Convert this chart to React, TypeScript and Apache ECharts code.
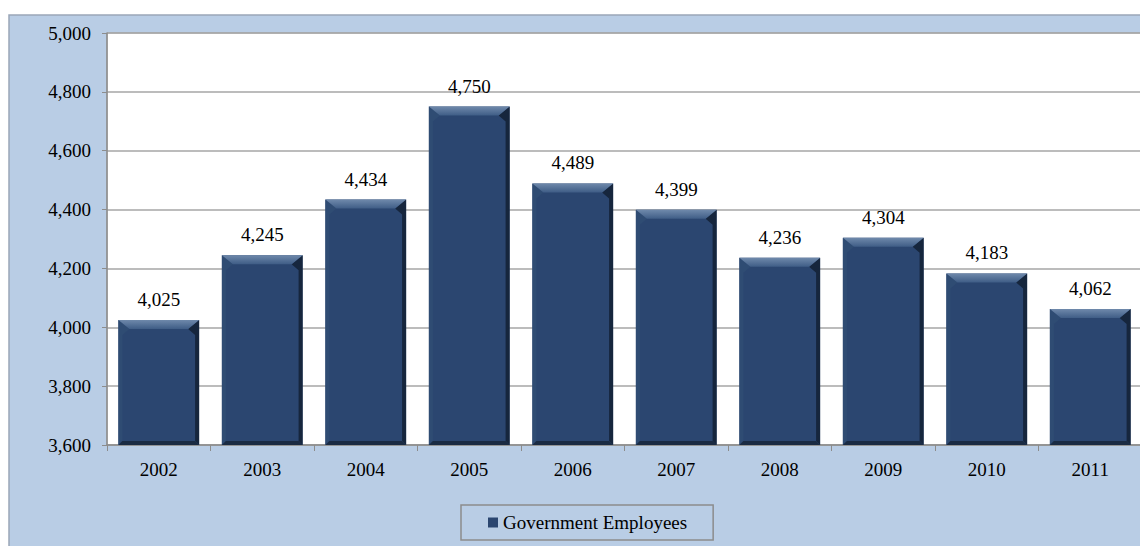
import React, { useEffect, useRef } from "react";
import * as echarts from "echarts";

const years = ["2002", "2003", "2004", "2005", "2006", "2007", "2008", "2009", "2010", "2011"];
const employees = [4025, 4245, 4434, 4750, 4489, 4399, 4236, 4304, 4183, 4062];
const yMin = 3600;
const yMax = 5000;
const yStep = 200;
const seriesName = "Government Employees";

const fmt = (v: number) => v.toLocaleString("en-US");
const FONT = "'Liberation Serif', 'DejaVu Serif', serif";
const FS = 19;

export default function App() {
  const ref = useRef<HTMLDivElement>(null);
  useEffect(() => {
    if (!ref.current) return;
    const chart = echarts.init(ref.current, null, { renderer: "svg" });
    chart.setOption({
      animation: false,
      graphic: [
        {
          type: "rect",
          z: -10,
          shape: { x: 1, y: 7, width: 1150, height: 545 },
          style: { fill: "#b9cde5", stroke: "#9aa6b8", lineWidth: 1.5 },
        },
      ],
      grid: {
        left: 99,
        top: 25,
        right: 6,
        bottom: 101,
        show: true,
        backgroundColor: "#ffffff",
        borderColor: "#a0a0a0",
        borderWidth: 1,
      },
      legend: {
        data: [seriesName],
        left: 453,
        top: 497,
        padding: [8, 26, 8, 27],
        itemWidth: 10,
        itemHeight: 10,
        icon: "rect",
        borderColor: "#8c8c8c",
        borderWidth: 1.5,
        backgroundColor: "#b9cde5",
        textStyle: { fontFamily: FONT, fontSize: FS, color: "#000" },
      },
      xAxis: {
        type: "category",
        data: years,
        axisLine: { show: true, lineStyle: { color: "#8c8c8c", width: 1.5 } },
        axisTick: { show: true, alignWithLabel: false, length: 6, lineStyle: { color: "#8c8c8c" } },
        axisLabel: { fontFamily: FONT, fontSize: FS, color: "#000", margin: 15 },
      },
      yAxis: {
        type: "value",
        min: yMin,
        max: yMax,
        interval: yStep,
        axisLine: { show: true, lineStyle: { color: "#8c8c8c", width: 1.5 } },
        axisTick: { show: true, length: 5, lineStyle: { color: "#8c8c8c" } },
        splitLine: { show: true, lineStyle: { color: "#a6a6a6", width: 1.5 } },
        axisLabel: { fontFamily: FONT, fontSize: FS, color: "#000", margin: 16, formatter: (v: number) => fmt(v) },
      },
      series: [
        {
          name: seriesName,
          type: "bar",
          data: employees,
          barCategoryGap: "22%",
          itemStyle: { color: "#2b4670" },
          label: {
            show: true,
            position: "top",
            distance: 11,
            fontFamily: FONT,
            fontSize: FS,
            color: "#000",
            formatter: (p: any) => fmt(p.value),
          },
        },
        {
          name: "bevel",
          type: "custom",
          z: 3,
          silent: true,
          data: employees.map((v, i) => [i, v]),
          renderItem: (params: any, api: any) => {
            const i = api.value(0);
            const v = api.value(1);
            const top = api.coord([i, v]);
            const base = api.coord([i, yMin]);
            const band = api.size([1, 0])[0];
            const w = band * 0.78;
            const x0 = top[0] - w / 2;
            const x1 = top[0] + w / 2;
            const y0 = top[1];
            const y1 = base[1];
            const bt = 9;
            const bx = 11;
            const s = 4;
            return {
              type: "group",
              children: [
                {
                  type: "polygon",
                  shape: { points: [[x0, y0], [x0 + bx, y0 + bt], [x0 + s, y0 + bt + 6], [x0 + s, y1 - s], [x0, y1]] },
                  style: { fill: "#2f4c73" },
                },
                {
                  type: "polygon",
                  shape: { points: [[x1, y0], [x1 - bx, y0 + bt], [x1 - s, y0 + bt + 6], [x1 - s, y1 - s], [x1, y1]] },
                  style: { fill: "#16263d" },
                },
                {
                  type: "polygon",
                  shape: { points: [[x0, y1], [x0 + s, y1 - s], [x1 - s, y1 - s], [x1, y1]] },
                  style: { fill: "#1a2b43" },
                },
                {
                  type: "polygon",
                  shape: { points: [[x0, y0], [x1, y0], [x1 - bx, y0 + bt], [x0 + bx, y0 + bt]] },
                  style: {
                    fill: new echarts.graphic.LinearGradient(0, 0, 0, 1, [
                      { offset: 0, color: "#6f89ab" },
                      { offset: 1, color: "#3f5d86" },
                    ]),
                  },
                },
              ],
            };
          },
        },
      ],
    });
    return () => chart.dispose();
  }, []);
  return <div ref={ref} style={{ width: 1140, height: 538 }} />;
}
